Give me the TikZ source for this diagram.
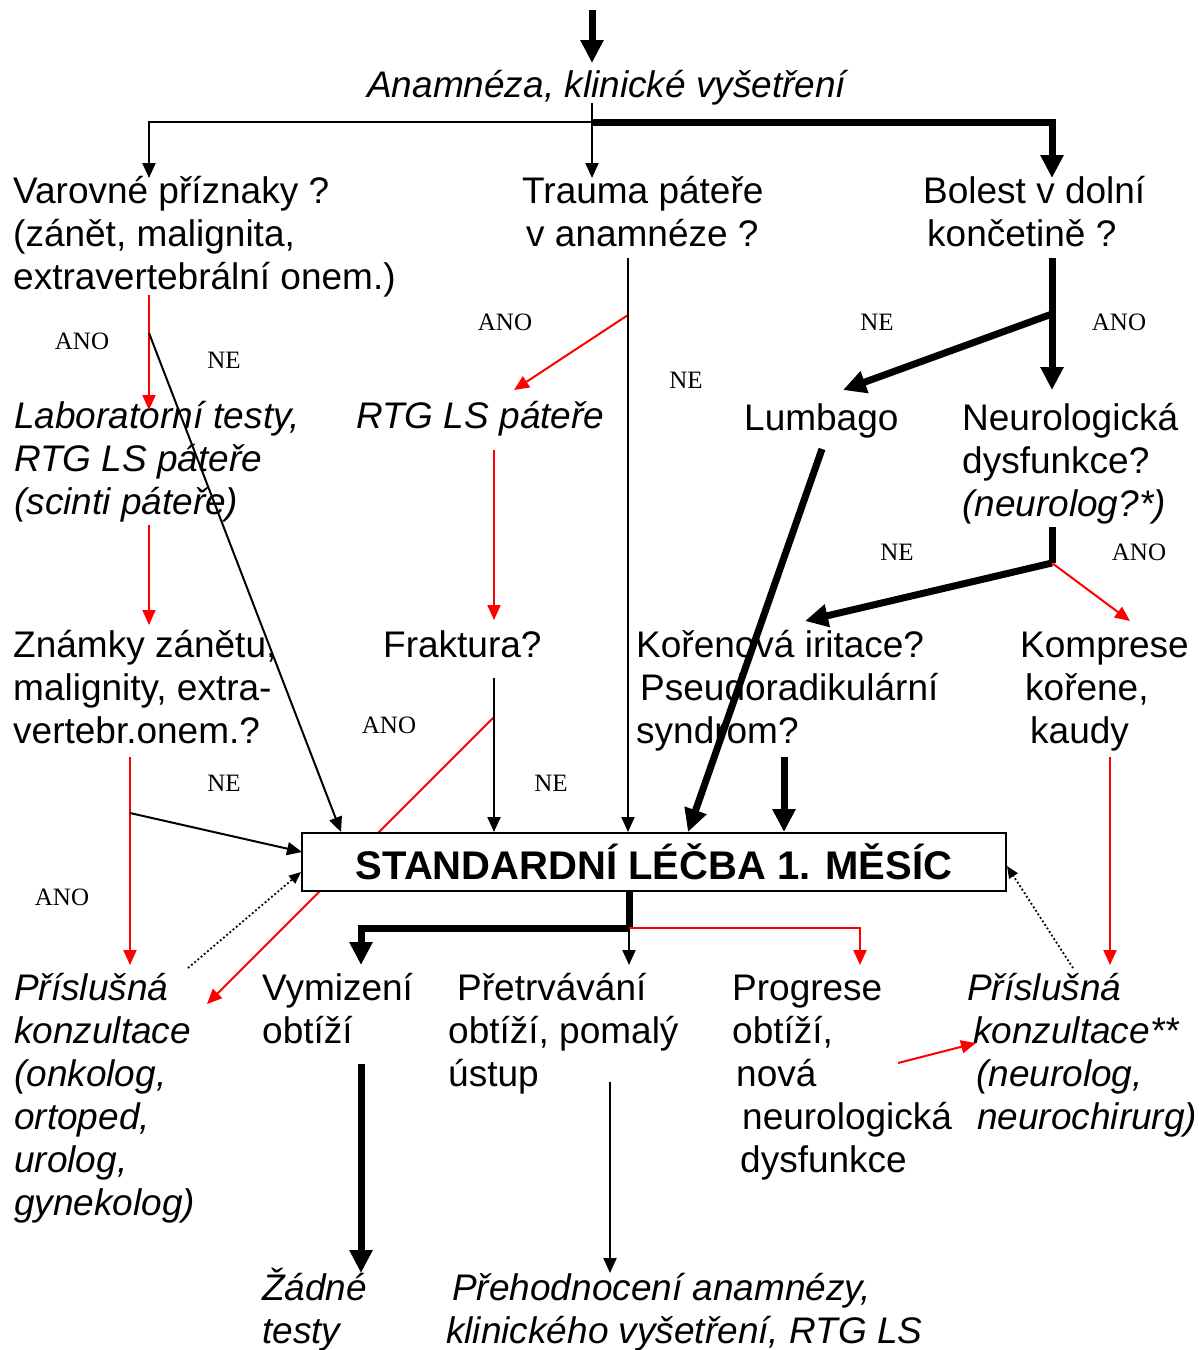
\documentclass[tikz,border=0pt]{standalone}
\usepackage{fontspec}
\setmainfont{Liberation Sans}
\newfontfamily\timesfont{Liberation Serif}
\usetikzlibrary{arrows.meta}

\begin{document}
\begin{tikzpicture}[x=1pt,y=-1pt,
    txt/.style={inner sep=0pt, anchor=base west, align=left, font=\fontsize{37}{43}\selectfont},
    itx/.style={txt, font=\fontsize{37}{43}\selectfont\itshape},
    lab/.style={inner sep=0pt, font=\timesfont\fontsize{25}{30}\selectfont},
    lnk/.style={line width=2pt, -{Triangle[length=15pt,width=13pt]}},
    rlnk/.style={lnk, red},
    fat/.style={line width=7pt, -{Triangle[length=23pt,width=22pt]}},
    dotlnk/.style={line width=1.8pt, dash pattern=on 1.8pt off 2.4pt, -{Triangle[length=12pt,width=10pt]}}]
  \useasboundingbox (0,0) rectangle (1199,1350);

  % texts (base = baseline of the last line)
  \node[itx] (anamneza) at (367,97) {Anamnéza, klinické vyšetření};
  \node[txt] (varovne) at (13,289) {Varovné příznaky ?\\(zánět, malignita,\\extravertebrální onem.)};
  \node[txt] (trauma) at (522,246) {Trauma páteře\\\hspace*{4pt}v anamnéze ?};
  \node[txt] (bolest) at (923,246) {Bolest v dolní\\\hspace*{4pt}končetině ?};
  \node[itx] (labtesty) at (14,514) {Laboratorní testy,\\RTG LS páteře\\(scinti páteře)};
  \node[itx] (rtg) at (356,428) {RTG LS páteře};
  \node[txt] (lumbago) at (744,430) {Lumbago};
  \node[txt] (neurodys) at (962,516) {Neurologická\\dysfunkce?\\{\itshape (neurolog?*)}};
  \node[txt] (znamky) at (13,743) {Známky zánětu,\\malignity, extra-\\vertebr.onem.?};
  \node[txt] (fraktura) at (383,657) {Fraktura?};
  \node[txt] (korenova) at (636,743) {Kořenová iritace?\\\hspace*{4pt}Pseudoradikulární\\syndrom?};
  \node[txt] (komprese) at (1020,743) {Komprese\\\hspace*{5pt}kořene,\\\hspace*{10pt}kaudy};
  \node[itx] (konzL) at (14,1215) {Příslušná\\konzultace\\(onkolog,\\ortoped,\\urolog,\\gynekolog)};
  \node[txt] (vymizeni) at (262,1043) {Vymizení\\obtíží};
  \node[txt] (pretrv) at (448,1086) {\hspace*{9pt}Přetrvávání\\obtíží, pomalý\\ústup};
  \node[txt] (progrese) at (732,1172) {Progrese\\obtíží,\\\hspace*{4pt}nová\\\hspace*{10pt}neurologická\\\hspace*{8pt}dysfunkce};
  \node[itx] (konzR) at (967,1129) {Příslušná\\\hspace*{6pt}konzultace**\\\hspace*{9pt}(neurolog,\\\hspace*{10pt}neurochirurg)};
  \node[itx] (zadne) at (262,1343) {Žádné\\testy};
  \node[itx] (prehod) at (446,1343) {\hspace*{6pt}Přehodnocení anamnézy,\\klinického vyšetření, RTG LS};

  % ANO / NE
  \node[lab] (ano1) at (82,341) {ANO};
  \node[lab] (ne1) at (224,360) {NE};
  \node[lab] (ano2) at (505,322) {ANO};
  \node[lab] (ne2) at (686,380) {NE};
  \node[lab] (ne3) at (877,322) {NE};
  \node[lab] (ano3) at (1119,322) {ANO};
  \node[lab] (ano4) at (389,725) {ANO};
  \node[lab] (ne4) at (224,783) {NE};
  \node[lab] (ne5) at (551,783) {NE};
  \node[lab] (ano5) at (62,897) {ANO};
  \node[lab] (ne6) at (897,552) {NE};
  \node[lab] (ano6) at (1139,552) {ANO};

  % junctions and ends
  \coordinate (topIn) at (592,10);
  \coordinate (anaIn) at (592,63);
  \coordinate (anaOut) at (592,103);
  \coordinate (split) at (592,122);
  \coordinate (varIn) at (149,178);
  \coordinate (traIn) at (592,178);
  \coordinate (bolIn) at (1052,178);
  \coordinate (varOut) at (149,295);
  \coordinate (varNe) at (149,333);
  \coordinate (labIn) at (149,410);
  \coordinate (labOut) at (149,525);
  \coordinate (znaIn) at (149,625);
  \coordinate (znaOut) at (130,757);
  \coordinate (znaNe) at (130,813);
  \coordinate (konzLIn) at (130,965);
  \coordinate (traOut) at (628,258);
  \coordinate (traAno) at (628,315);
  \coordinate (rtgIn) at (514,390);
  \coordinate (rtgOut) at (494,450);
  \coordinate (fraIn) at (494,620);
  \coordinate (fraOut) at (494,678);
  \coordinate (fraAno) at (494,717);
  \coordinate (konzLSide) at (207,1004);
  \coordinate (bolOut) at (1052,258);
  \coordinate (bolNe) at (1052,314);
  \coordinate (lumIn) at (843,390);
  \coordinate (neuIn) at (1052,390);
  \coordinate (lumOut) at (822,449);
  \coordinate (neuOut) at (1052,527);
  \coordinate (neuSplit) at (1052,563);
  \coordinate (korIn) at (805,621);
  \coordinate (komIn) at (1130,621);
  \coordinate (korOut) at (784,757);
  \coordinate (komOut) at (1110,757);
  \coordinate (konzRIn) at (1110,965);
  \coordinate (konzLDot) at (188,968);
  \coordinate (konzRDot) at (1073,968);
  \coordinate (lecbaOut) at (629,928);
  \coordinate (vymIn) at (361,965);
  \coordinate (preIn) at (629,965);
  \coordinate (proIn) at (860,965);
  \coordinate (proOut) at (898,1063);
  \coordinate (konzRSide) at (976,1043);
  \coordinate (vymOut) at (361,1064);
  \coordinate (zadIn) at (361,1273);
  \coordinate (preOut) at (610,1082);
  \coordinate (prehIn) at (610,1273);

  % red line passing behind the box
  \draw[rlnk] (fraAno) -- (konzLSide);

  \node[draw, line width=2pt, fill=white, minimum width=704pt, minimum height=58pt, inner sep=0pt,
        font=\bfseries\fontsize{40}{44}\selectfont] (lecba) at (654,862) {STANDARDNÍ LÉČBA 1. MĚSÍC};

  % top
  \draw[fat] (topIn) -- (anaIn);
  \draw[line width=2pt] (anaOut) -- (split);
  \draw[lnk] (split) -| (varIn);
  \draw[lnk] (split) -- (traIn);
  \draw[fat] (split) -| (bolIn);

  % left column
  \draw[rlnk] (varOut) -- (labIn);
  \draw[lnk] (varNe) -- (lecba.north -| 341,0);
  \draw[rlnk] (labOut) -- (znaIn);
  \draw[rlnk] (znaOut) -- (konzLIn);
  \draw[lnk] (znaNe) -- (302,852);

  % trauma
  \draw[rlnk] (traAno) -- (rtgIn);
  \draw[lnk] (traOut) -- (traOut |- lecba.north);
  \draw[rlnk] (rtgOut) -- (fraIn);
  \draw[lnk] (fraOut) -- (fraOut |- lecba.north);

  % bolest
  \draw[fat] (bolOut) -- (neuIn);
  \draw[fat] (bolNe) -- (lumIn);
  \draw[fat] (lumOut) -- (lecba.north -| 688,0);
  \draw[line width=7pt] (neuOut) -- (neuSplit);
  \draw[fat] (neuSplit) -- (korIn);
  \draw[rlnk] (neuSplit) -- (komIn);
  \draw[fat] (korOut) -- (korOut |- lecba.north);
  \draw[rlnk] (komOut) -- (konzRIn);

  % dotted back to the box
  \draw[dotlnk] (konzLDot) -- (lecba.west |- 0,872);
  \draw[dotlnk] (konzRDot) -- (lecba.east |- 0,866);

  % below the box
  \draw[line width=7pt] (lecba.south -| lecbaOut) -- (lecbaOut);
  \draw[fat] (lecbaOut) -| (vymIn);
  \draw[lnk] (lecbaOut) -- (preIn);
  \draw[rlnk] (lecbaOut) -| (proIn);
  \draw[rlnk] (proOut) -- (konzRSide);
  \draw[fat] (vymOut) -- (zadIn);
  \draw[lnk] (preOut) -- (prehIn);
\end{tikzpicture}
\end{document}
